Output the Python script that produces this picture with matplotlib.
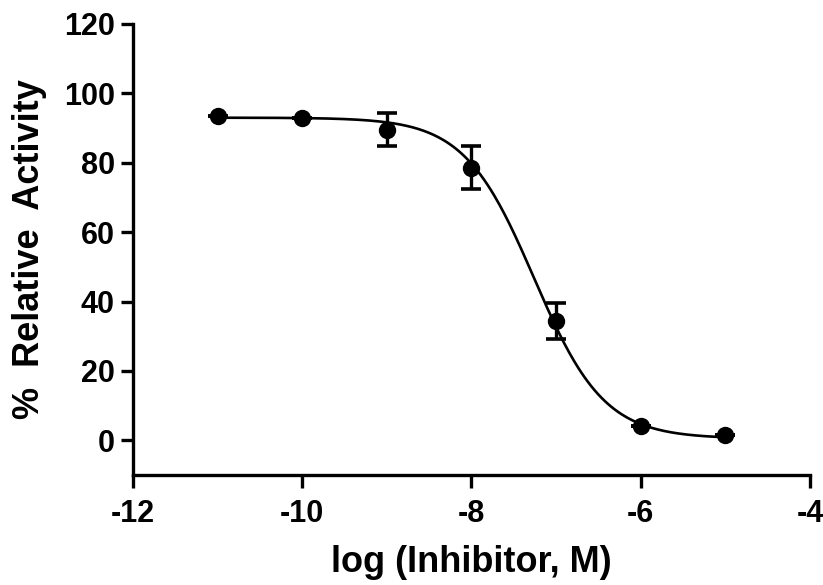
import numpy as np
import matplotlib.pyplot as plt

plt.rcParams['font.family'] = ['Liberation Sans', 'DejaVu Sans']
plt.rcParams['font.weight'] = 'bold'
plt.rcParams['axes.unicode_minus'] = False

# measured points
log_conc = [-11, -10, -9, -8, -7, -6, -5]
activity = [93.5, 93.0, 89.5, 78.5, 34.5, 4.1, 1.4]
sem = [0, 0, 4.8, 6.2, 5.2, 0, 0]

# fitted curve parameters (4PL)
top = 93.0
bottom = 0.5
log_ic50 = -7.26
hill = 1.05

fig = plt.figure(figsize=(8.23, 5.85), dpi=100)
ax = fig.add_axes([0.1616, 0.188, 0.8225, 0.771])

xf = np.linspace(-11, -5, 300)
yf = bottom + (top - bottom) / (1 + 10 ** ((xf - log_ic50) * hill))
ax.plot(xf, yf, color='black', lw=1.9, zorder=2)

ax.errorbar(log_conc, activity, yerr=sem, fmt='o', color='black',
            ms=11.5, elinewidth=2.4, capsize=7, capthick=2.6, zorder=3)

ax.set_xlim(-12, -4)
ax.set_ylim(-10, 120)
ax.set_xticks([-12, -10, -8, -6, -4])
ax.set_yticks([0, 20, 40, 60, 80, 100, 120])

for s in ['top', 'right']:
    ax.spines[s].set_visible(False)
for s in ['left', 'bottom']:
    ax.spines[s].set_linewidth(2.4)
ax.tick_params(width=2.4, length=9, labelsize=22)
ax.tick_params(axis='x', pad=8)
ax.tick_params(axis='y', pad=4)

ax.set_xlabel('log (Inhibitor, M)', fontsize=26, fontweight='bold', labelpad=12)
ax.set_ylabel('%  Relative  Activity', fontsize=26, fontweight='bold', labelpad=12)

fig.savefig('out.png', dpi=100)
